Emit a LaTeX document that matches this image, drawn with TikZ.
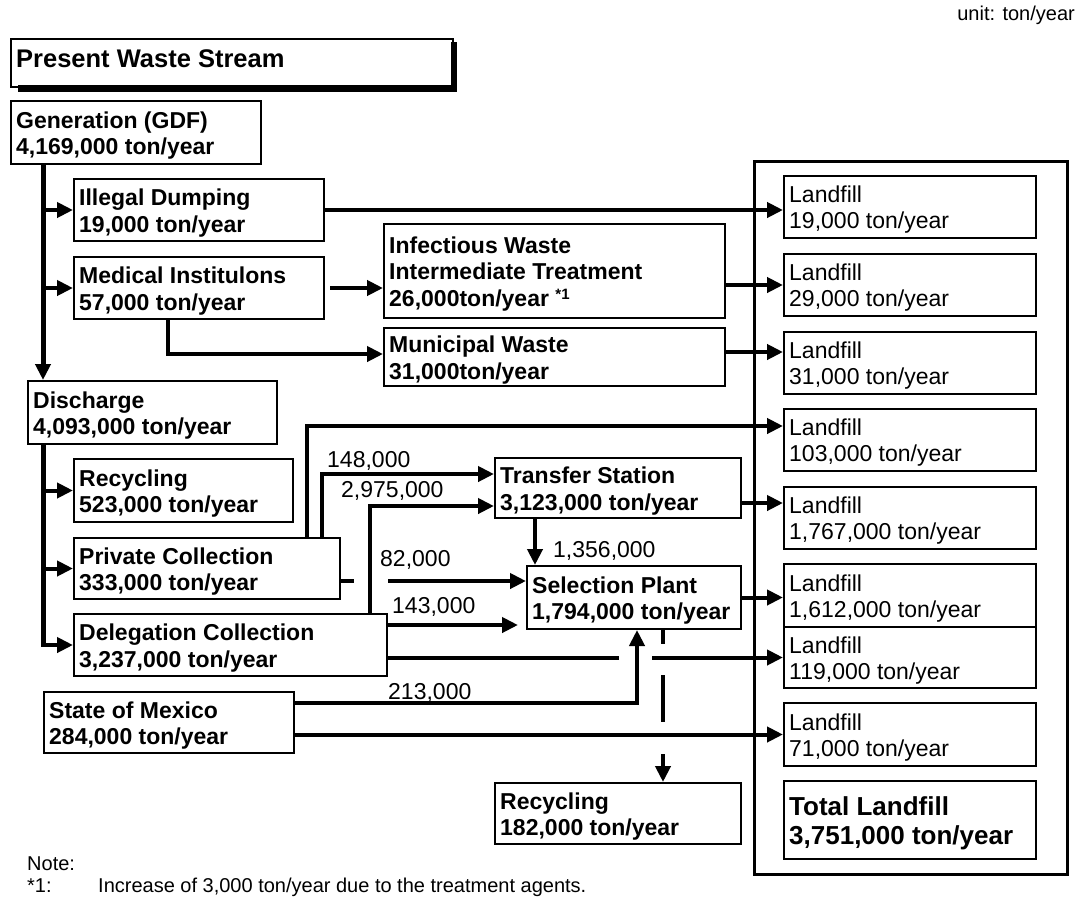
\documentclass[tikz,border=0pt]{standalone}
\usepackage{fontspec}
\setmainfont{Liberation Sans}
\usetikzlibrary{arrows.meta}
\newcommand\fB{\fontsize{23}{26.5}\selectfont\bfseries}
\newcommand\fR{\fontsize{23}{26}\selectfont}
\begin{document}
\begin{tikzpicture}[x=1pt,y=-1pt,
 box/.style={draw, line width=2pt, anchor=north west, inner sep=0pt},
 txt/.style={anchor=west, inner sep=0pt, align=left, font=\fB, yshift=-3pt},
 ltxt/.style={anchor=west, inner sep=0pt, align=left, font=\fR, yshift=-3pt},
 lab/.style={anchor=base west, inner sep=0pt, font=\fR},
 note/.style={anchor=base west, inner sep=0pt, font=\fontsize{20}{22}\selectfont},
 conn/.style={line width=4pt, line join=miter, -{Triangle[length=16pt,width=15pt]}},
 trunk/.style={line width=5pt},
]
\path[use as bounding box] (0,0) rectangle (1081,905);

% unit and title
\node[note, anchor=base east] (unit) at (1075,20) {unit: ton/year};
\node[draw, line width=2pt, anchor=north west, minimum width=442pt, minimum height=48pt, inner sep=0pt] (title) at (10,38) {};
\fill (18,85) rectangle (457,92);
\fill (451,42) rectangle (457,92);
\node[anchor=base west, inner sep=0pt, font=\fontsize{25.5}{28}\selectfont\bfseries] (titlet) at (16,67) {Present Waste Stream};

% left column boxes
\node[box, minimum width=250pt, minimum height=63pt] (gen) at (10,100) {};
\node[txt] at ([xshift=6pt]gen.west) {Generation (GDF)\\4,169,000 ton/year};
\node[box, minimum width=250pt, minimum height=62pt] (ill) at (73,178) {};
\node[txt] at ([xshift=6pt]ill.west) {Illegal Dumping\\19,000 ton/year};
\node[box, minimum width=250pt, minimum height=62pt] (med) at (73,256) {};
\node[txt] at ([xshift=6pt]med.west) {Medical Institulons\\57,000 ton/year};
\node[box, minimum width=341pt, minimum height=94pt] (inf) at (383,223) {};
\node[txt] at ([xshift=6pt]inf.west) {Infectious Waste\\Intermediate Treatment\\26,000ton/year {\fontsize{15}{15}\selectfont\raisebox{7pt}{*1}}};
\node[box, minimum width=341pt, minimum height=58pt] (mun) at (383,327) {};
\node[txt] at ([xshift=6pt]mun.west) {Municipal Waste\\31,000ton/year};
\node[box, minimum width=249pt, minimum height=63pt] (disc) at (27,380) {};
\node[txt] at ([xshift=6pt]disc.west) {Discharge\\4,093,000 ton/year};
\node[box, minimum width=219pt, minimum height=63pt] (rec1) at (73,458) {};
\node[txt] at ([xshift=6pt]rec1.west) {Recycling\\523,000 ton/year};
\node[box, minimum width=266pt, minimum height=61pt] (priv) at (73,537) {};
\node[txt] at ([xshift=6pt]priv.west) {Private Collection\\333,000 ton/year};
\node[box, minimum width=313pt, minimum height=62pt] (del) at (73,613) {};
\node[txt] at ([xshift=6pt]del.west) {Delegation Collection\\3,237,000 ton/year};
\node[box, minimum width=250pt, minimum height=61pt] (state) at (43,691) {};
\node[txt] at ([xshift=6pt]state.west) {State of Mexico\\284,000 ton/year};
\node[box, minimum width=246pt, minimum height=60pt] (trans) at (494,457) {};
\node[txt] at ([xshift=6pt]trans.west) {Transfer Station\\3,123,000 ton/year};
\node[box, minimum width=214pt, minimum height=63pt] (sel) at (526,565) {};
\node[txt] at ([xshift=6pt]sel.west) {Selection Plant\\1,794,000 ton/year};
\node[box, minimum width=246pt, minimum height=61pt] (rec2) at (494,782) {};
\node[txt] at ([xshift=6pt]rec2.west) {Recycling\\182,000 ton/year};

% landfill column
\node[box, line width=2.5pt, minimum width=313pt, minimum height=713pt] (big) at (753,160) {};
\node[box, minimum width=252pt, minimum height=62pt] (L1) at (783,175) {};
\node[ltxt] at ([xshift=6pt]L1.west) {Landfill\\19,000 ton/year};
\node[box, minimum width=252pt, minimum height=62pt] (L2) at (783,253) {};
\node[ltxt] at ([xshift=6pt]L2.west) {Landfill\\29,000 ton/year};
\node[box, minimum width=252pt, minimum height=62pt] (L3) at (783,331) {};
\node[ltxt] at ([xshift=6pt]L3.west) {Landfill\\31,000 ton/year};
\node[box, minimum width=252pt, minimum height=62pt] (L4) at (783,408) {};
\node[ltxt] at ([xshift=6pt]L4.west) {Landfill\\103,000 ton/year};
\node[box, minimum width=252pt, minimum height=62pt] (L5) at (783,486) {};
\node[ltxt] at ([xshift=6pt]L5.west) {Landfill\\1,767,000 ton/year};
\node[box, minimum width=252pt, minimum height=63pt] (L6) at (783,563) {};
\node[ltxt] at ([xshift=6pt]L6.west) {Landfill\\1,612,000 ton/year};
\node[box, minimum width=252pt, minimum height=61pt] (L7) at (783,626) {};
\node[ltxt] at ([xshift=6pt]L7.west) {Landfill\\119,000 ton/year};
\node[box, minimum width=252pt, minimum height=63pt] (L8) at (783,702) {};
\node[ltxt] at ([xshift=6pt]L8.west) {Landfill\\71,000 ton/year};
\node[box, minimum width=252pt, minimum height=78pt] (tot) at (783,780) {};
\node[txt, font=\fontsize{26}{29}\selectfont\bfseries] at ([xshift=6pt]tot.west) {Total Landfill\\3,751,000 ton/year};

% helper x positions
\coordinate (mx) at (43,0);

% generation trunk
\draw[conn, line width=5pt] (gen.south -| mx) -- (disc.north -| mx);
\draw[conn] (ill.west -| mx) -- (ill.west);
\draw[conn] (med.west -| mx) -- (med.west);
\draw[conn] (ill.east) -- (ill.east -| L1.west);
\draw[conn] ([xshift=5pt]med.east) -- (med.east -| inf.west);
\draw[conn] (med.south -| 168,0) |- ([yshift=3pt]mun.west);
\draw[conn] (L2.west -| inf.east) -- (L2.west);
\coordinate (m3) at ([yshift=5pt]mun.east);
\draw[conn] (m3) -- (m3 -| L3.west);

% discharge trunk
\draw[trunk] (disc.south -| mx) -- ([yshift=-2pt]del.west -| mx);
\draw[conn] (rec1.west -| mx) -- (rec1.west);
\draw[conn] (priv.west -| mx) -- (priv.west);
\draw[conn] (del.west -| mx) -- (del.west);

% private collection
\draw[conn] (priv.north -| 307,0) |- ([yshift=14pt]L4.west);
\draw[conn] (priv.north -| 322,0) |- ([yshift=14pt]trans.west);
\node[lab] (l148) at (327,467) {148,000};
\coordinate (p82) at (priv.east |- 0,581);
\draw[conn, dash pattern=on 13pt off 34pt on 400pt] (p82) -- (p82 -| sel.west);
\node[lab] (l82) at (380,566) {82,000};

% delegation collection
\draw[conn] (del.north -| 370,0) |- ([yshift=-18pt]trans.west);
\node[lab] (l2975) at (341,497) {2,975,000};
\coordinate (d143) at (del.east |- 0,625);
\draw[conn, shorten >=8pt] (d143) -- (d143 -| sel.west);
\node[lab] (l143) at (392,613) {143,000};
\coordinate (d119) at (del.east |- L7.west);
\draw[conn, dash pattern=on 231pt off 33pt on 400pt] (d119) -- (L7.west);

% transfer station
\coordinate (t5) at ([yshift=-15pt]trans.east);
\draw[conn] (t5) -- (t5 -| L5.west);
\draw[conn] (trans.south -| 535,0) -- (sel.north -| 535,0);
\node[lab] (l1356) at (553,557) {1,356,000};

% selection plant
\draw[conn] (sel.east) -- (sel.east -| L6.west);
\draw[conn, dash pattern=on 14pt off 31pt on 47pt off 32pt on 200pt] (sel.south -| 663,0) -- (rec2.north -| 663,0);

% state of mexico
\coordinate (s213) at (state.east |- 0,703);
\draw[conn] (s213) -| (sel.south -| 637,0);
\node[lab] (l213) at (388,699) {213,000};
\draw[conn] (L8.west -| state.east) -- (L8.west);

% note
\node[note] (n1) at (27,870) {Note:};
\node[note] (n2) at (27,892) {*1:};
\node[note] (n3) at (98,892) {Increase of 3,000 ton/year due to the treatment agents.};
\end{tikzpicture}
\end{document}
